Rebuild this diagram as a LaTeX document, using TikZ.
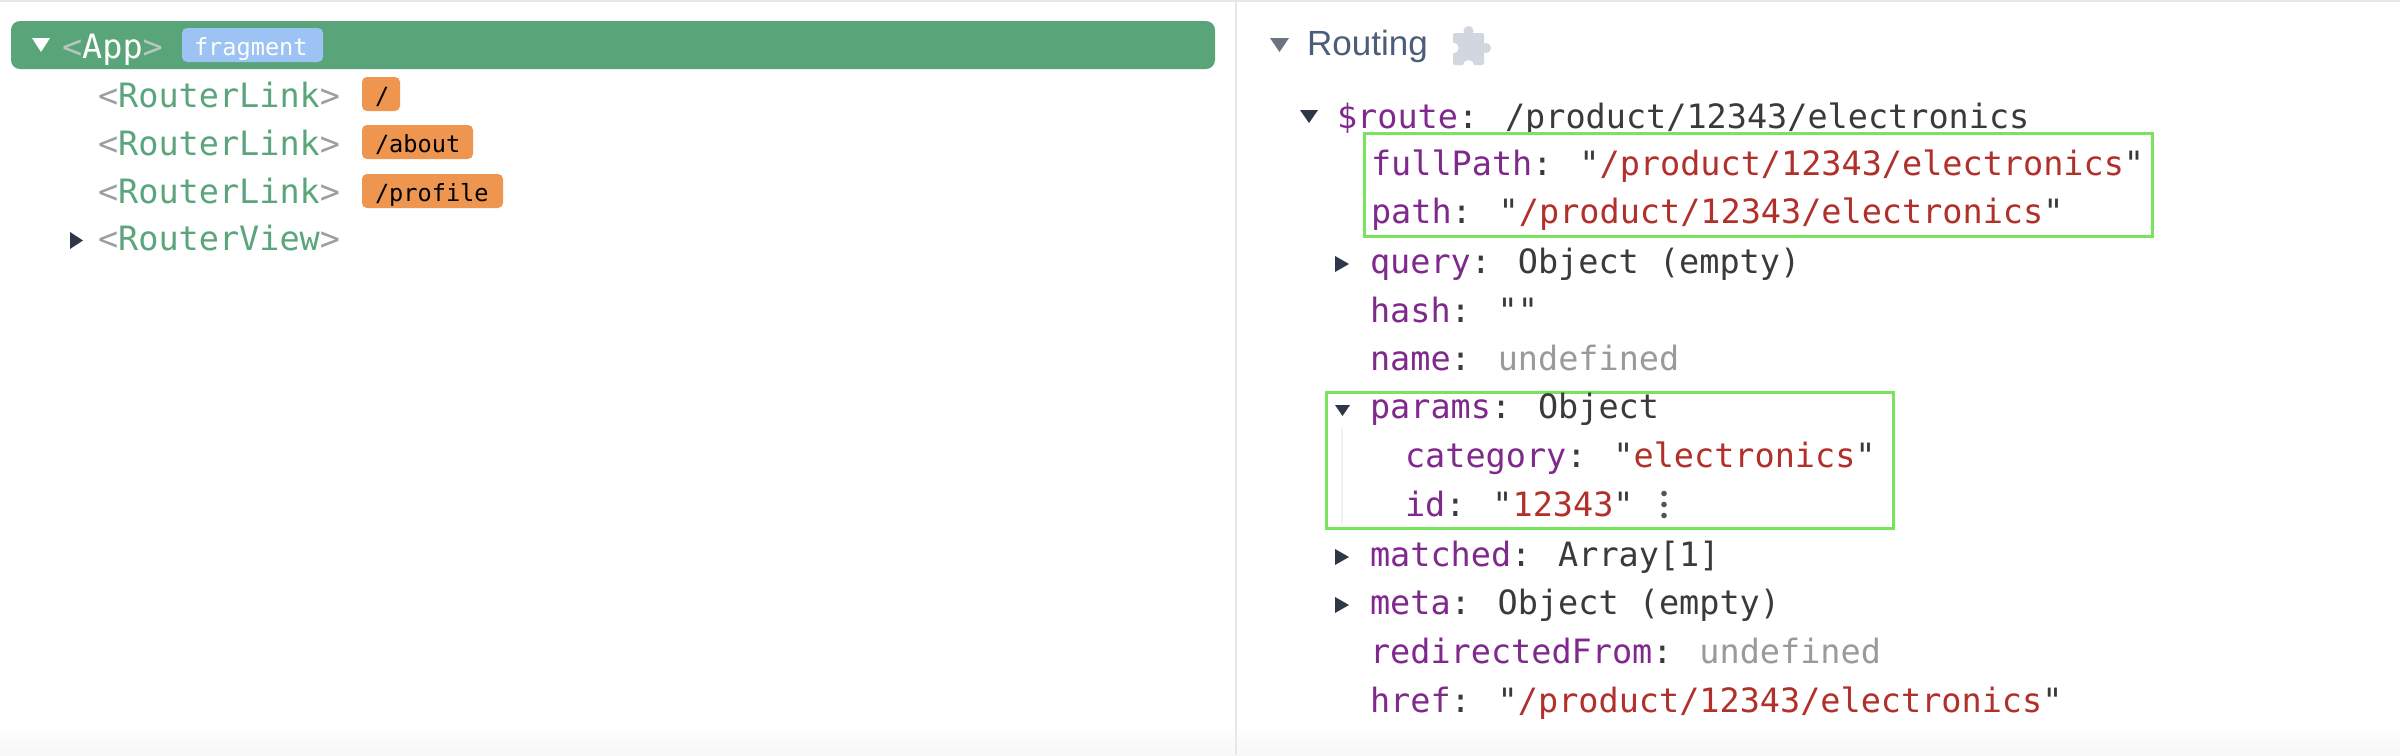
\documentclass[tikz,border=0pt]{standalone}
\usepackage{fontspec}
\newfontfamily\codef[Ligatures=TeXOff]{DejaVu Sans Mono}
\newfontfamily\uif{Liberation Sans}
\definecolor{barg}{HTML}{5AA47A}
\definecolor{appgt}{HTML}{B4C8BC}
\definecolor{fragb}{HTML}{9CC3F3}
\definecolor{taggray}{HTML}{9A9FA6}
\definecolor{taggreen}{HTML}{5BA57C}
\definecolor{badgeor}{HTML}{EE9550}
\definecolor{darktri}{HTML}{2D3748}
\definecolor{routtri}{HTML}{6B7280}
\definecolor{routtxt}{HTML}{4A5E7B}
\definecolor{puzz}{HTML}{D2D7DF}
\definecolor{keyc}{HTML}{80298C}
\definecolor{strc}{HTML}{B1302A}
\definecolor{plainc}{HTML}{3A3A3A}
\definecolor{undc}{HTML}{9A9A9A}
\definecolor{boxg}{HTML}{78E35C}
\definecolor{dotc}{HTML}{4A5568}
\definecolor{lineg}{HTML}{E5E7EB}
\newcommand\keyt[1]{\textcolor{keyc}{#1}}
\newcommand\strt[1]{\textcolor{strc}{#1}}
\newcommand\plaint[1]{\textcolor{plainc}{#1}}
\newcommand\undt[1]{\textcolor{undc}{#1}}
\newcommand\tagt[1]{\textcolor{taggray}{<}\textcolor{taggreen}{#1}\textcolor{taggray}{>}}
\begin{document}
\begin{tikzpicture}[x=1pt,y=-1pt,
  txt/.style={anchor=base west, inner sep=0pt, outer sep=0pt, font=\codef\fontsize{33.5pt}{40pt}\selectfont},
  btxt/.style={anchor=base west, inner sep=0pt, outer sep=0pt, font=\codef\fontsize{23.6pt}{28pt}\selectfont},
  hlbox/.style={draw=boxg, line width=3pt},
  badgebox/.style={fill=badgeor, rounded corners=5pt}]
\useasboundingbox (0,0) rectangle (2400,755);
\fill[white] (0,0) rectangle (2400,755);
% bottom fade
\shade[top color=white, bottom color=black!3] (0,722) rectangle (2400,755);
% frame lines
\draw[lineg, line width=1.5pt] (0,0.75) -- (2400,0.75);
\draw[lineg, line width=2pt] (1236,0) -- (1236,755);

% ---------- left panel ----------
\fill[barg, rounded corners=9pt] (11,21) rectangle (1215,69);
\fill[white] (32,38) -- (50,38) -- (41,52) -- cycle;
\node[txt] (app) at (62,58) {\textcolor{appgt}{<}\textcolor{white}{App}\textcolor{appgt}{>}};
\fill[fragb, rounded corners=5pt] (182,28) rectangle (323,62);
\node[btxt, text=white] (frag) at (194,55) {fragment};

\node[txt] (rl1) at (98,107) {\tagt{RouterLink}};
\node[txt] (rl2) at (98,155) {\tagt{RouterLink}};
\node[txt] (rl3) at (98,203) {\tagt{RouterLink}};
\fill[darktri] (70,232) -- (83,240.5) -- (70,249) -- cycle;
\node[txt] (rv) at (98,250) {\tagt{RouterView}};

\fill[badgebox] (362,77) rectangle (400,111);
\node[btxt] (b1) at (375,104) {/};
\fill[badgebox] (362,125) rectangle (473,159);
\node[btxt] (b2) at (375,152) {/about};
\fill[badgebox] (362,174) rectangle (503,208);
\node[btxt] (b3) at (375,201) {/profile};

% ---------- right panel ----------
\fill[routtri] (1270,38) -- (1289,38) -- (1279.5,52) -- cycle;
\node[anchor=base west, inner sep=0pt, text=routtxt, font=\uif\fontsize{35pt}{42pt}\selectfont] (routing) at (1307,55) {Routing};
% puzzle icon
\fill[puzz, rounded corners=2pt] (1453,33) rectangle (1484,65);
\fill[puzz] (1468.5,31) circle (5);
\fill[puzz] (1486,48) circle (5);
\fill[white] (1453,48) circle (5.5);
\fill[white] (1468.5,65.5) circle (5.5);

\fill[darktri] (1300,110) -- (1318,110) -- (1309,123) -- cycle;
\node[txt] (route) at (1337,128) {\keyt{\$route}\plaint{: /product/12343/electronics}};

\draw[hlbox] (1364,133) rectangle (2152,236);
\node[txt] (fullpath) at (1371,175) {\keyt{fullPath}\plaint{: "}\strt{/product/12343/electronics}\plaint{"}};
\node[txt] (path) at (1371,223) {\keyt{path}\plaint{: "}\strt{/product/12343/electronics}\plaint{"}};

\fill[darktri] (1335,256) -- (1349,264) -- (1335,272) -- cycle;
\node[txt] (query) at (1370,273) {\keyt{query}\plaint{: Object (empty)}};
\node[txt] (hash) at (1370,322) {\keyt{hash}\plaint{: ""}};
\node[txt] (name) at (1370,370) {\keyt{name}\plaint{: }\undt{undefined}};

\draw[hlbox] (1326,392) rectangle (1893,528);
\fill[darktri] (1335,405) -- (1350,405) -- (1342.5,416) -- cycle;
\node[txt] (params) at (1370,418) {\keyt{params}\plaint{: Object}};
\draw[black!5, line width=2pt] (1342,428) -- (1342,524);
\node[txt] (category) at (1405,467) {\keyt{category}\plaint{: "}\strt{electronics}\plaint{"}};
\node[txt] (id) at (1405,516) {\keyt{id}\plaint{: "}\strt{12343}\plaint{"}};
\fill[dotc] (1664,493.5) circle (2.8) (1664,504.5) circle (2.8) (1664,515.5) circle (2.8);

\fill[darktri] (1335,549) -- (1349,557) -- (1335,565) -- cycle;
\node[txt] (matched) at (1370,566) {\keyt{matched}\plaint{: Array[1]}};
\fill[darktri] (1335,597) -- (1349,605) -- (1335,613) -- cycle;
\node[txt] (meta) at (1370,614) {\keyt{meta}\plaint{: Object (empty)}};
\node[txt] (redir) at (1370,663) {\keyt{redirectedFrom}\plaint{: }\undt{undefined}};
\node[txt] (href) at (1370,712) {\keyt{href}\plaint{: "}\strt{/product/12343/electronics}\plaint{"}};
\end{tikzpicture}
\end{document}
